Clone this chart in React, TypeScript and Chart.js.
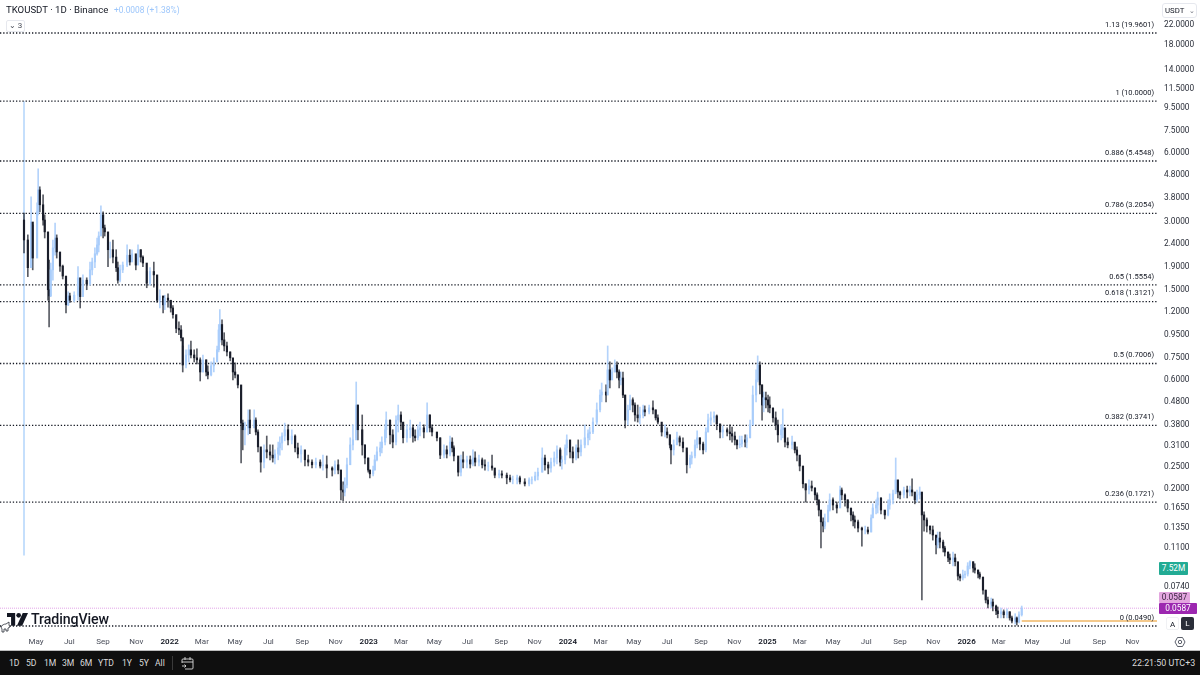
import React, { useEffect, useRef } from "react";
import { Chart, registerables } from "chart.js";

Chart.register(...registerables);

// day offsets from the first session (2021-04-09)
const candleDays = [0,7,13,16,24,26,29,35,38,44,46,49,53,57,60,66,71,77,81,84,92,99,103,108,115,121,125,130,134,137,141,145,148,154,158,163,169,172,176,181,189,194,198,205,209,214,218,225,231,238,244,249,255,258,264,269,273,279,284,288,291,297,302,306,312,317,323,328,334,337,343,348,354,357,359,363,367,372,378,383,387,392,398,401,405,411,414,422,425,429,434,440,445,451,456,460,466,469,473,478,484,491,497,502,508,515,521,528,535,543,548,555,565,570,576,581,585,588,592,598,603,609,612,620,625,631,634,640,643,647,653,656,662,664,671,676,682,686,691,695,702,708,713,717,722,726,733,739,744,748,757,763,770,775,781,785,788,796,801,805,812,818,823,827,834,840,845,851,858,863,871,876,885,891,896,904,909,918,926,931,937,942,950,955,961,966,972,977,983,986,992,995,1001,1006,1012,1016,1021,1028,1034,1037,1043,1050,1056,1059,1067,1070,1074,1078,1083,1087,1091,1094,1098,1102,1107,1111,1116,1120,1125,1129,1135,1138,1146,1153,1158,1162,1169,1175,1179,1184,1186,1191,1197,1202,1208,1215,1221,1224,1230,1234,1239,1245,1250,1254,1259,1265,1270,1276,1281,1289,1294,1298,1303,1307,1312,1316,1322,1325,1331,1336,1342,1345,1349,1353,1356,1360,1364,1367,1373,1378,1382,1388,1391,1395,1400,1408,1413,1417,1422,1428,1433,1439,1444,1450,1454,1457,1461,1465,1468,1474,1477,1483,1490,1496,1499,1505,1510,1516,1520,1523,1529,1536,1542,1547,1553,1556,1562,1565,1571,1578,1584,1587,1593,1598,1602,1606,1613,1619,1624,1628,1633,1637,1642,1646,1650,1655,1661,1666,1672,1675,1679,1685,1688,1694,1697,1703,1707,1712,1716,1721,1725,1730,1734,1740,1743,1749,1752,1758,1763,1767,1773,1776,1782,1785,1791,1796,1802,1807,1811,1817,1820,1824,1829];

const highs = [3.22,2.58,3.79,2.85,3.57,5.04,4.2,3.87,3.16,2.28,2,1.94,2.45,2.91,2.58,2.1,1.9,1.51,1.45,1.43,1.45,1.87,1.51,1.72,1.67,1.96,2.04,2.26,2.5,2.66,3.46,3.26,2.85,2.58,2.4,2.45,2.22,1.96,1.9,1.96,2.33,2.22,2.22,2.04,2.33,2.22,2.085,1.78,1.85,1.96,1.55,1.48,1.36,1.4,1.42,1.33,1.26,1.13,1.07,1.03,.837,.805,.846,.88,.805,.813,.742,.764,.727,.684,.712,.742,.837,1.04,1.21,1.09,.957,.87,.788,.712,.705,.624,.525,.395,.387,.438,.438,.438,.404,.358,.292,.307,.336,.307,.307,.292,.316,.333,.347,.383,.376,.358,.34,.313,.304,.286,.277,.264,.269,.264,.277,.2745,.246,.261,.264,.238,.211,.22,.269,.33,.376,.581,.46,.416,.307,.269,.238,.248,.277,.301,.316,.333,.376,.429,.395,.358,.412,.46,.429,.376,.376,.395,.376,.358,.376,.387,.376,.47,.416,.376,.347,.33,.307,.304,.336,.33,.304,.258,.277,.286,.2745,.2745,.292,.286,.277,.269,.264,.258,.277,.233,.238,.236,.231,.226,.224,.226,.224,.218,.22,.222,.233,.243,.298,.277,.258,.269,.286,.304,.298,.2745,.307,.34,.316,.301,.307,.323,.323,.376,.358,.368,.404,.47,.536,.575,.564,.837,.712,.67,.727,.712,.657,.643,.643,.509,.46,.509,.495,.47,.46,.451,.46,.456,.46,.48,.438,.416,.368,.376,.365,.34,.307,.323,.35,.336,.33,.286,.277,.286,.323,.354,.33,.316,.365,.42,.429,.429,.416,.372,.372,.365,.376,.368,.35,.32,.336,.336,.34,.34,.395,.558,.657,.757,.712,.564,.525,.525,.509,.5,.429,.429,.395,.376,.442,.358,.33,.336,.31,.301,.269,.222,.207,.2155,.213,.1985,.189,.169,.1525,.1465,.1525,.167,.187,.1795,.172,.2025,.1985,.187,.176,.157,.1557,.1494,.1435,.1336,.135,.1336,.151,.169,.176,.1905,.1795,.157,.176,.187,.1945,.269,.211,.1925,.2005,.2025,.2025,.218,.183,.1945,.2005,.181,.1557,.1465,.135,.135,.122,.127,.127,.117,.11,.1037,.1016,.1037,.1016,.09,.083,.0864,.0855,.0931,.0949,.094,.0921,.0864,.0846,.0766,.0705,.0657,.0651,.0644,.0606,.0594,.0588,.0577,.0583,.0566,.0542,.0555,.0537,.0566,.06];

const lows = [2.15,1.69,2.33,1.81,2.22,3.16,3.26,2.85,2.5,1.33,1.015,1.38,1.63,2.1,2.04,1.78,1.65,1.17,1.26,1.3,1.31,1.33,1.23,1.45,1.48,1.55,1.72,1.85,2.1,2.17,2.66,2.5,2.55,1.87,2.04,1.94,1.78,1.58,1.6,1.76,1.87,1.9,2,1.81,1.96,1.96,1.87,1.51,1.55,1.52,1.3,1.23,1.17,1.21,1.24,1.18,1.11,.957,.938,.88,.643,.67,.712,.742,.712,.698,.587,.643,.618,.6,.618,.643,.72,.788,.87,.846,.796,.757,.72,.593,.605,.547,.256,.292,.307,.34,.344,.365,.34,.286,.233,.243,.269,.264,.258,.253,.264,.277,.292,.32,.307,.31,.286,.269,.258,.248,.248,.243,.243,.243,.238,.22,.224,.229,.229,.176,.174,.183,.1985,.269,.292,.33,.323,.277,.253,.233,.22,.224,.238,.261,.2745,.283,.307,.33,.31,.298,.307,.35,.358,.313,.316,.33,.316,.32,.323,.336,.33,.35,.35,.336,.32,.267,.269,.269,.2745,.286,.261,.224,.224,.243,.243,.243,.248,.248,.248,.243,.238,.236,.238,.22,.22,.22,.207,.211,.207,.207,.207,.2025,.2025,.207,.213,.2155,.233,.238,.229,.233,.248,.253,.248,.24,.253,.277,.269,.256,.264,.269,.2745,.298,.307,.323,.344,.376,.429,.475,.475,.553,.547,.605,.643,.605,.547,.564,.495,.365,.376,.447,.429,.391,.387,.38,.404,.412,.42,.42,.395,.38,.336,.333,.33,.298,.253,.277,.31,.304,.286,.231,.243,.253,.269,.298,.292,.28,.286,.35,.376,.387,.358,.33,.33,.336,.323,.316,.307,.295,.298,.301,.301,.298,.33,.376,.475,.581,.515,.395,.429,.447,.429,.425,.387,.358,.316,.323,.33,.301,.298,.295,.283,.261,.236,.1985,.172,.187,.1925,.176,.167,.1494,.108,.127,.131,.1435,.157,.1587,.154,.1795,.176,.165,.1557,.142,.135,.1322,.127,.11,.1245,.1245,.127,.1525,.1525,.154,.1525,.145,.1494,.16,.169,.1905,.1795,.1775,.1795,.1795,.183,.183,.169,.172,.1775,.0638,.128,.127,.1245,.117,.1016,.108,.108,.1037,.0996,.094,.0921,.09,.09,.0781,.0773,.0781,.0797,.0813,.0873,.0846,.0838,.0797,.0789,.0677,.0619,.0588,.0588,.0571,.0549,.0532,.0532,.0532,.0532,.052,.0505,.05,.0495,.0505,.0542];

const closes = [2.45,1.85,2.94,2.04,3.26,4.07,3.5,3,2.66,1.48,1.39,1.81,2.26,2.5,2.17,1.88,1.7,1.27,1.39,1.33,1.4,1.67,1.38,1.63,1.57,1.81,1.96,2.13,2.33,2.55,3.16,2.77,2.66,2.22,2.22,2.06,1.85,1.63,1.81,1.9,2.1,1.96,2.13,1.9,2.22,2.06,1.94,1.58,1.78,1.72,1.33,1.39,1.27,1.36,1.33,1.23,1.15,1,.985,.91,.69,.764,.805,.764,.742,.727,.643,.727,.643,.624,.684,.712,.805,.985,1.04,.89,.837,.788,.742,.643,.624,.564,.383,.358,.365,.395,.365,.395,.35,.301,.258,.292,.286,.277,.269,.28,.298,.313,.336,.358,.323,.336,.298,.28,.292,.264,.258,.251,.258,.248,.251,.243,.238,.251,.238,.1945,.1905,.2045,.251,.307,.323,.46,.358,.307,.269,.238,.229,.238,.264,.286,.298,.316,.358,.395,.34,.316,.395,.416,.387,.33,.358,.365,.336,.33,.358,.365,.35,.416,.365,.35,.33,.277,.292,.28,.316,.298,.2745,.233,.264,.258,.264,.253,.269,.258,.264,.251,.248,.248,.243,.226,.229,.226,.22,.2155,.2155,.22,.211,.207,.2155,.2155,.224,.233,.269,.251,.243,.258,.269,.292,.258,.264,.298,.323,.286,.269,.298,.286,.307,.33,.344,.35,.387,.438,.509,.525,.509,.657,.593,.643,.69,.643,.593,.605,.509,.395,.438,.485,.46,.416,.404,.416,.438,.429,.447,.438,.404,.387,.35,.35,.34,.307,.292,.307,.33,.316,.298,.251,.269,.2745,.307,.33,.31,.292,.35,.395,.404,.412,.38,.35,.358,.35,.344,.336,.323,.307,.31,.323,.316,.33,.376,.509,.593,.69,.564,.46,.495,.485,.46,.447,.404,.376,.34,.358,.365,.316,.307,.316,.292,.277,.248,.207,.1945,.2025,.1985,.185,.176,.1587,.1407,.135,.1407,.1587,.176,.167,.162,.1945,.185,.176,.162,.151,.1435,.1407,.1322,.1297,.1297,.127,.1465,.162,.167,.1795,.1587,.151,.167,.176,.187,.2155,.1905,.185,.1945,.1905,.1945,.1905,.176,.185,.1905,.151,.1435,.135,.1297,.1232,.1115,.1195,.1147,.108,.1037,.0977,.0958,.0977,.094,.0813,.0797,.0822,.083,.09,.094,.0882,.0864,.083,.0805,.0705,.0638,.0612,.0625,.06,.0571,.0555,.0566,.0549,.0566,.0532,.0515,.0532,.051,.0549,.0587];

const firstOpen = 3.0;

const fibLabels = ["1.13 (19.9601)","1 (10.0000)","0.886 (5.4548)","0.786 (3.2054)","0.65 (1.5554)","0.618 (1.3121)","0.5 (0.7006)","0.382 (0.3741)","0.236 (0.1721)","0 (0.0490)"];
const fibPrices = [19.9601,10,5.4548,3.2054,1.5554,1.3121,0.7006,0.3741,0.1721,0.049];

const priceTicks = [22,18,14,11.5,9.5,7.5,6,4.8,3.8,3,2.4,1.9,1.5,1.2,0.95,0.75,0.6,0.48,0.38,0.31,0.25,0.2,0.165,0.135,0.11,0.074];

const monthTicks: [string,string][] = [["May","2021-05-01"],["Jul","2021-07-01"],["Sep","2021-09-01"],["Nov","2021-11-01"],["2022","2022-01-01"],["Mar","2022-03-01"],["May","2022-05-01"],["Jul","2022-07-01"],["Sep","2022-09-01"],["Nov","2022-11-01"],["2023","2023-01-01"],["Mar","2023-03-01"],["May","2023-05-01"],["Jul","2023-07-01"],["Sep","2023-09-01"],["Nov","2023-11-01"],["2024","2024-01-01"],["Mar","2024-03-01"],["May","2024-05-01"],["Jul","2024-07-01"],["Sep","2024-09-01"],["Nov","2024-11-01"],["2025","2025-01-01"],["Mar","2025-03-01"],["May","2025-05-01"],["Jul","2025-07-01"],["Sep","2025-09-01"],["Nov","2025-11-01"],["2026","2026-01-01"],["Mar","2026-03-01"],["May","2026-05-01"],["Jul","2026-07-01"],["Sep","2026-09-01"],["Nov","2026-11-01"]];

const rangeButtons = ["1D","5D","1M","3M","6M","YTD","1Y","5Y","All"];
const rangeButtonLeft = [9,26,44,62,80,98,122,139,155];

const startDate = Date.UTC(2021, 3, 9);
const dayOf = (iso: string) => Math.round((Date.parse(iso) - startDate) / 864e5);
const FONT = "Roboto, 'Liberation Sans', sans-serif";
const UP = "#a9cdfb";
const DOWN = "#1a1e2b";

const fibText = {
  id: "fibText",
  afterDatasetsDraw(chart: any) {
    const { ctx, scales } = chart;
    ctx.save();
    ctx.font = `7.5px ${FONT}`;
    ctx.fillStyle = "#131722";
    ctx.textAlign = "right";
    ctx.textBaseline = "middle";
    fibLabels.forEach((t, i) => {
      const y = scales.y.getPixelForValue(fibPrices[i]);
      ctx.fillText(t, 1154, y - 8);
    });
    ctx.restore();
  },
};

const hl = (x0: number, x1: number, v: number) => [{ x: x0, y: v }, { x: x1, y: v }];

export default function App() {
  const ref = useRef<HTMLCanvasElement>(null);
  useEffect(() => {
    if (!ref.current) return;
    const opens = closes.map((_, i) => (i === 0 ? firstOpen : closes[i - 1]));
    const isUp = closes.map((c, i) => c >= opens[i]);
    const xMin = -44, xMax = 2077;
    const lineBase = { type: "line", pointRadius: 0, parsing: false, order: 3, tension: 0 };
    const chart = new Chart(ref.current, {
      type: "bar",
      data: {
        datasets: [
          {
            ...lineBase,
            data: [{ x: 0, y: 10 }, { x: 0, y: 0.1 }],
            borderColor: "#c5dffc",
            borderWidth: 2,
            order: 4,
          },
          ...fibPrices.map((p) => ({
            ...lineBase,
            data: hl(xMin, xMax, p),
            borderColor: "#131722",
            borderWidth: 1.3,
            borderDash: [1.3, 1.9],
          })),
          {
            ...lineBase,
            data: hl(xMin, xMax, 0.0587),
            borderColor: "#e2a3e8",
            borderWidth: 1,
            borderDash: [1, 1],
          },
          {
            ...lineBase,
            data: hl(1829, xMax, 0.0515),
            borderColor: "#f4c98c",
            borderWidth: 2,
          },
          {
            type: "bar",
            data: candleDays.map((d, i) => ({ x: d, y: [lows[i], highs[i]] })),
            backgroundColor: isUp.map((u) => (u ? "#b4d3fb" : "rgba(19,23,34,0.7)")),
            barThickness: 1,
            grouped: false,
            order: 2,
          },
          {
            type: "bar",
            data: candleDays.map((d, i) => ({ x: d, y: [opens[i], closes[i]] })),
            backgroundColor: isUp.map((u) => (u ? UP : DOWN)),
            barThickness: 1.5,
            grouped: false,
            order: 1,
          },
        ] as any,
      },
      options: {
        responsive: false,
        animation: false,
        layout: { autoPadding: false, padding: { left: 0, right: 0, top: 0, bottom: 24 } },
        plugins: { legend: { display: false }, tooltip: { enabled: false } },
        scales: {
          x: {
            type: "linear",
            min: xMin,
            max: xMax,
            offset: false,
            grid: { display: false, drawTicks: false },
            border: { display: false },
            afterFit: (s: any) => { s.height = 21; },
            afterBuildTicks: (s: any) => { s.ticks = monthTicks.map((m) => ({ value: dayOf(m[1]) })); },
            ticks: {
              autoSkip: false,
              maxRotation: 0,
              padding: 7,
              color: (c: any) => (monthTicks[c.index]?.[0].length === 4 ? "#131722" : "#4a4e5a"),
              font: (c: any) => ({ family: FONT, size: 8, weight: monthTicks[c.index]?.[0].length === 4 ? "600" : "400" }),
              callback: (_v: any, i: number) => monthTicks[i][0],
            },
          },
          y: {
            type: "logarithmic",
            position: "right",
            min: 0.04705,
            max: 24.7,
            grid: { display: false, drawTicks: false },
            border: { display: false },
            afterFit: (s: any) => { s.width = 43; },
            afterBuildTicks: (s: any) => { s.ticks = priceTicks.map((v) => ({ value: v })); },
            ticks: {
              autoSkip: false,
              padding: 7,
              labelOffset: 1.5,
              color: "#2a2e39",
              font: { family: FONT, size: 8.3 },
              callback: (v: any) => Number(v).toFixed(4),
            },
          },
        },
      } as any,
      plugins: [fibText],
    });
    return () => chart.destroy();
  }, []);

  const abs = (left: number, top: number, extra: React.CSSProperties = {}): React.CSSProperties => ({
    position: "absolute",
    left,
    top,
    whiteSpace: "nowrap",
    ...extra,
  });
  const badge = (left: number, top: number, w: number, h: number, bg: string, color: string): React.CSSProperties =>
    abs(left, top, { width: w, height: h, background: bg, color, fontSize: 8.3, lineHeight: `${h}px`, textAlign: "center", borderRadius: 1 });

  return (
    <div style={{ position: "fixed", left: 0, top: 0, width: 1200, height: 675, overflow: "hidden", background: "#fff", fontFamily: FONT }}>
      <canvas ref={ref} width={1200} height={675} style={{ display: "block" }} />

      <div style={abs(6, 4, { fontSize: 9.6, lineHeight: "12px", color: "#131722" })}>TKOUSDT · 1D · Binance</div>
      <div style={abs(114, 4, { fontSize: 8.4, lineHeight: "12px", color: "#9cc6fb" })}>+0.0008 (+1.38%)</div>
      <div style={abs(6, 20, { width: 19, height: 12, border: "1px solid #e6e8ee", borderRadius: 2, boxSizing: "border-box", fontSize: 8, lineHeight: "10px", color: "#4a4e5a", textAlign: "center", background: "#fff" })}>⌄ 3</div>

      <div style={abs(1162, 3, { width: 35, height: 15, border: "1px solid #e6e8ee", borderRadius: 3, boxSizing: "border-box", fontSize: 7.8, lineHeight: "13px", color: "#131722", paddingLeft: 2, background: "#fff" })}>USDT<span style={{ marginLeft: 5, color: "#6a6e7a", fontSize: 7 }}>⌄</span></div>

      <svg style={abs(7, 613)} width="21" height="14" viewBox="0 0 36 24">
        <path d="M0 0h14v22H7V7H0z" fill="#131722" />
        <circle cx="20" cy="4" r="4" fill="#131722" />
        <path d="M27 0h9l-10 22h-9z" fill="#131722" />
      </svg>
      <div style={abs(31, 610, { fontSize: 14.2, fontWeight: 500, lineHeight: "18px", color: "#131722", letterSpacing: -0.1 })}>TradingView</div>
      <svg style={abs(0, 621)} width="11" height="12" viewBox="0 0 11 12">
        <path d="M1 6c1-2 3-3 5-3l3-2v3l1 2-2 1v3H6V8H4v3H2V8z" fill="#fff" stroke="#2a2e39" strokeWidth="0.8" />
      </svg>

      <div style={badge(1159, 562, 29, 13, "#22ab94", "#fff")}>7.52M</div>
      <div style={badge(1159, 592, 31, 11, "#e3a6df", "#3a2440")}>0.0587</div>
      <div style={badge(1159, 603, 38, 11, "#9c27b0", "#fff")}>0.0587</div>

      <div style={abs(1166, 617, { width: 13, height: 13, fontSize: 8, lineHeight: "13px", textAlign: "center", color: "#131722", border: "1px solid #f0f1f4", borderRadius: 2, boxSizing: "border-box" })}>A</div>
      <div style={abs(1181, 617, { width: 13, height: 13, fontSize: 8, lineHeight: "13px", textAlign: "center", color: "#fff", background: "#2a2e39", borderRadius: 2 })}>L</div>
      <svg style={abs(1174, 636)} width="12" height="12" viewBox="0 0 12 12">
        <path d="M3.5 1.5h5L11 6l-2.5 4.5h-5L1 6z" fill="none" stroke="#4a4e5a" strokeWidth="0.9" />
        <circle cx="6" cy="6" r="1.7" fill="none" stroke="#4a4e5a" strokeWidth="0.9" />
      </svg>

      <div style={abs(0, 650, { width: 1200, height: 25, background: "#0f0f0f", borderTop: "1px solid #bdbdbd", boxSizing: "border-box" })} />
      {rangeButtons.map((b, i) => (
        <div key={b} style={abs(rangeButtonLeft[i], 657, { fontSize: 8.6, lineHeight: "12px", color: "#dbdbdb" })}>{b}</div>
      ))}
      <div style={abs(172, 656, { width: 1, height: 14, background: "#3a3a3a" })} />
      <svg style={abs(181, 656)} width="13" height="14" viewBox="0 0 13 14">
        <path d="M2 3h9a1 1 0 0 1 1 1v8a1 1 0 0 1-1 1H4 M1 6h11 M4 1v3 M9 1v3 M1 10h4 M3.5 8.5 5 10l-1.5 1.5 M2 3a1 1 0 0 0-1 1v3" fill="none" stroke="#dbdbdb" strokeWidth="0.9" />
      </svg>
      <div style={abs(1132, 657, { fontSize: 8.9, lineHeight: "12px", color: "#dbdbdb" })}>22:21:50 UTC+3</div>
    </div>
  );
}
